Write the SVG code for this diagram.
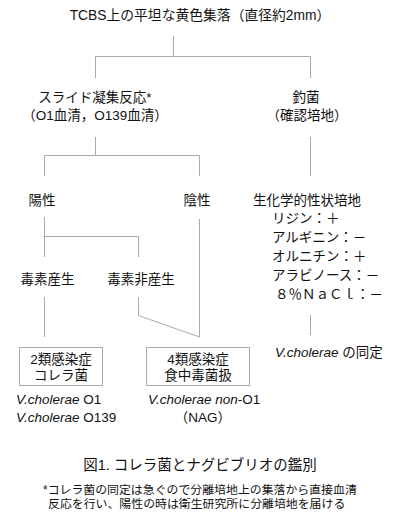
<svg xmlns="http://www.w3.org/2000/svg" width="400" height="520" viewBox="0 0 400 520">
<style>
text{font-family:"Liberation Sans","Noto Sans CJK JP",sans-serif;font-size:13.5px;fill:#111111}
.m{text-anchor:middle}
.i{font-style:italic}
.t{font-size:13.8px}
.cap{font-size:14.5px}
.note{font-size:11.9px}
.ln{stroke:#aaaaaa;stroke-width:1;fill:none}
.box{stroke:#aaaaaa;stroke-width:1;fill:#ffffff}
</style>
<rect width="400" height="520" fill="#ffffff"/>
<g id="connectors" class="ln">
<path d="M173.5,36V56.5M95.5,56.5H310.5M95.5,56.5V78M310.5,56.5V78"/>
<path d="M95.5,137V155.5M44.5,155.5H199.5M44.5,155.5V176M199.5,155.5V176"/>
<path d="M310.5,137V176"/>
<path d="M44.5,217V257M44.5,236.5H138.5M138.5,236.5V257"/>
<path d="M199.5,219V337"/>
<path d="M44.5,297V337"/>
<path d="M138.5,297V315.5L199.5,337"/>
<path d="M310.5,315V335"/>
</g>
<g id="title"><text class="m t" x="200" y="20">TCBS上の平坦な黄色集落（直径約2mm）</text></g>
<g id="slide"><text class="m" x="95" y="102">スライド凝集反応*</text><text class="m" x="95" y="120">（O1血清，O139血清）</text></g>
<g id="tsurikin"><text class="m" x="306" y="102">釣菌</text><text class="m" x="307" y="120">（確認培地）</text></g>
<g id="positive"><text class="m" x="42" y="205">陽性</text></g>
<g id="negative"><text class="m" x="197" y="205">陰性</text></g>
<g id="biochem">
<text x="253" y="205">生化学的性状培地</text>
<text x="272" y="223">リジン：＋</text>
<text x="272" y="242">アルギニン：－</text>
<text x="272" y="261">オルニチン：＋</text>
<text x="272" y="280">アラビノース：－</text>
<text x="275" y="299">８％ＮａＣｌ：－</text>
</g>
<g id="toxin"><text class="m" x="47.5" y="284">毒素産生</text></g>
<g id="nontoxin"><text class="m" x="141" y="284">毒素非産生</text></g>
<g id="box2"><rect class="box" x="19.5" y="347.5" width="83" height="38"/><text class="m" x="61" y="364">2類感染症</text><text class="m" x="61" y="380">コレラ菌</text></g>
<g id="box4"><rect class="box" x="146.5" y="347.5" width="103" height="38"/><text class="m" x="198" y="364">4類感染症</text><text class="m" x="198" y="380">食中毒菌扱</text></g>
<g id="identify"><text x="275" y="357"><tspan class="i">V.cholerae</tspan> の同定</text></g>
<g id="o1"><text x="16" y="404"><tspan class="i">V.cholerae</tspan> O1</text><text x="16" y="422"><tspan class="i">V.cholerae</tspan> O139</text></g>
<g id="nag"><text x="148" y="404"><tspan class="i">V.cholerae non</tspan>-O1</text><text class="m" x="203" y="422">（NAG）</text></g>
<g id="caption"><text class="m cap" x="200" y="470">図1. コレラ菌とナグビブリオの鑑別</text></g>
<g id="footnote"><text class="note" x="43" y="494">*コレラ菌の同定は急ぐので分離培地上の集落から直接血清</text><text class="note" x="48" y="508">反応を行い、陽性の時は衛生研究所に分離培地を届ける</text></g>
</svg>
